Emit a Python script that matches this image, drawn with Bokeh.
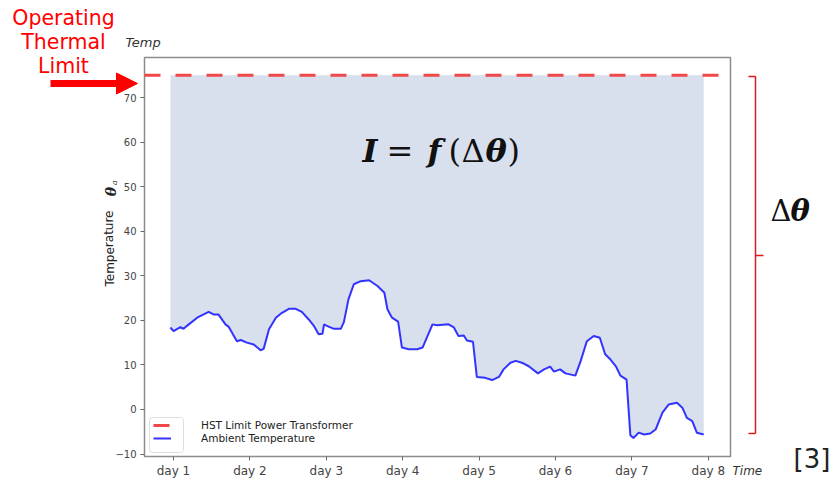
from bokeh.plotting import figure
from bokeh.models import (Range1d, FixedTicker, Label, Arrow, NormalHead,
                          Legend, LegendItem, ColumnDataSource, BoxAnnotation)
from bokeh.embed import file_html
from bokeh.resources import INLINE

# ---- data ----
days = [0.96, 1.00, 1.09, 1.13, 1.20, 1.31, 1.46, 1.53, 1.59, 1.68,
        1.72, 1.83, 1.88, 1.96, 2.05, 2.14, 2.18, 2.25, 2.34, 2.42,
        2.51, 2.60, 2.68, 2.77, 2.84, 2.90, 2.95, 2.97, 3.03, 3.10,
        3.19, 3.23, 3.29, 3.36, 3.45, 3.56, 3.67, 3.76, 3.80, 3.86,
        3.94, 3.99, 4.08, 4.19, 4.26, 4.39, 4.45, 4.60, 4.67, 4.73,
        4.80, 4.84, 4.92, 4.97, 5.08, 5.17, 5.26, 5.32, 5.41, 5.48,
        5.56, 5.65, 5.77, 5.85, 5.93, 5.98, 6.06, 6.13, 6.26, 6.33,
        6.41, 6.50, 6.58, 6.65, 6.72, 6.79, 6.85, 6.93, 6.98, 7.02,
        7.09, 7.16, 7.24, 7.31, 7.40, 7.48, 7.59, 7.66, 7.72, 7.79,
        7.85, 7.94]
ambient = [18.4, 17.6, 18.5, 18.1, 19.1, 20.6, 21.9, 21.3, 21.3, 19.1,
           18.6, 15.3, 15.6, 15.0, 14.6, 13.3, 13.6, 18.0, 20.6, 21.7,
           22.6, 22.6, 21.9, 20.2, 18.7, 16.9, 17.0, 19.1, 18.6, 18.1,
           18.1, 19.6, 24.7, 28.1, 28.8, 29.0, 27.7, 26.2, 22.5, 20.6,
           19.7, 13.9, 13.5, 13.5, 13.9, 19.1, 18.9, 19.1, 18.4, 16.5,
           16.6, 15.5, 15.2, 7.3, 7.1, 6.6, 7.3, 9.0, 10.5, 10.9,
           10.5, 9.7, 8.1, 9.0, 9.6, 8.5, 9.0, 8.1, 7.6, 10.9,
           15.3, 16.5, 16.1, 12.4, 11.2, 9.7, 7.6, 6.7, -5.8, -6.4,
           -5.2, -5.6, -5.4, -4.5, -0.7, 1.1, 1.5, 0.4, -1.9, -2.6,
           -5.2, -5.6]
hst_limit = 75
y_ticks = [-10, 0, 10, 20, 30, 40, 50, 60, 70]
y_tick_labels = ["\u221210", "0", "10", "20", "30", "40", "50", "60", "70"]
x_ticks = [1, 2, 3, 4, 5, 6, 7, 8]
x_tick_labels = ["day 1", "day 2", "day 3", "day 4", "day 5", "day 6", "day 7", "day 8"]
series_names = ["HST Limit Power Transformer", "Ambient Temperature"]

# ---- layout constants (axes box limits, in data units) ----
AX_X = (0.6204, 8.2906)     # left / right edge of the axes box
AX_Y = (-10.55, 78.98)      # bottom / top edge of the axes box
VIEW_X = (-1.2644, 9.6387)  # whole canvas
VIEW_Y = (-15.71, 91.77)
LEG_BOX = (0.686, 1.131, -9.65, -1.79)  # faint legend frame

RED = "#ff0000"
LIMIT_RED = "#f04848"
BLUE = "#3333ff"
FILL = "#d7e0ec"
SPINE = "#8c8c8c"

p = figure(width=833, height=479, output_backend="svg", toolbar_location=None,
           x_range=Range1d(*VIEW_X), y_range=Range1d(*VIEW_Y),
           min_border=0, min_border_left=0, min_border_right=0,
           min_border_top=0, min_border_bottom=0)
p.grid.visible = False
p.background_fill_color = "white"
p.border_fill_color = "white"
p.outline_line_color = None

# axes box
p.add_layout(BoxAnnotation(left=AX_X[0], right=AX_X[1], bottom=AX_Y[0], top=AX_Y[1],
                           fill_color=None, fill_alpha=0, line_color=SPINE,
                           line_alpha=1.0, line_width=1.5, level="underlay"))

src = ColumnDataSource(dict(x=days, y=ambient, top=[hst_limit] * len(days)))
p.varea(x="x", y1="y", y2="top", source=src, fill_color=FILL)
lim = p.segment(x0=[AX_X[0]], x1=[AX_X[1]], y0=[hst_limit], y1=[hst_limit],
                line_color=LIMIT_RED, line_width=3, line_dash="16 15")
amb = p.line("x", "y", source=src, line_color=BLUE, line_width=2)

# axes (fixed on the box edges)
for ax in (p.xaxis[0], p.yaxis[0]):
    ax.axis_line_color = None
    ax.major_tick_line_color = "#666666"
    ax.major_tick_in = 0
    ax.major_tick_out = 4
    ax.minor_tick_line_color = None
    ax.major_label_text_color = "#444444"
    ax.major_label_text_font = "DejaVu Sans"
p.xaxis.fixed_location = AX_Y[0]
p.yaxis.fixed_location = AX_X[0]
p.xaxis.ticker = FixedTicker(ticks=x_ticks)
p.xaxis.major_label_overrides = {t: l for t, l in zip(x_ticks, x_tick_labels)}
p.xaxis.major_label_text_font_size = "12px"
p.xaxis.major_label_standoff = 3
p.yaxis.ticker = FixedTicker(ticks=y_ticks)
p.yaxis.major_label_overrides = {t: l for t, l in zip(y_ticks, y_tick_labels)}
p.yaxis.major_label_text_font_size = "10px"
p.yaxis.major_label_standoff = 4

# legend frame (matplotlib style, faint)
p.add_layout(BoxAnnotation(left=LEG_BOX[0], right=LEG_BOX[1],
                           bottom=LEG_BOX[2], top=LEG_BOX[3],
                           fill_color="white", fill_alpha=1.0,
                           line_color="#dedede", line_alpha=1.0, line_width=1,
                           border_radius=3))
legend = Legend(items=[LegendItem(label=series_names[0], renderers=[lim]),
                       LegendItem(label=series_names[1], renderers=[amb])],
                location=(149, 31), padding=4, spacing=1, margin=0,
                glyph_width=18, glyph_height=12, label_standoff=30,
                label_text_font="DejaVu Sans", label_text_font_size="10.5px",
                label_text_color="#222222", label_height=12,
                border_line_alpha=0, background_fill_alpha=0)
p.add_layout(legend)


def lab(text, x, y, size, font="DejaVu Sans", style="normal", color="#222222",
        align="left", baseline="middle", angle=0.0):
    p.add_layout(Label(x=x, y=y, x_units="canvas", y_units="canvas", text=text,
                       text_font=font, text_font_size=size, text_font_style=style,
                       text_color=color, text_align=align, text_baseline=baseline,
                       angle=angle))


# red annotation on the left
lab("Operating", 63, 17, "20.5px", color=RED, align="center")
lab("Thermal", 63, 41, "20.5px", color=RED, align="center")
lab("Limit", 63, 65, "20.5px", color=RED, align="center")
p.add_layout(Arrow(x_start=50, y_start=83, x_end=137, y_end=83,
                   start_units="canvas", end_units="canvas",
                   line_color=RED, line_width=7,
                   end=NormalHead(size=21, fill_color=RED, line_color=RED)))

# axis texts
lab("Temp", 125, 42, "13px", style="italic", color="#333333")
lab("Time", 732, 470, "12px", style="italic", color="#333333")
lab("Temperature", 109, 248, "12px", color="#222222", align="center",
    angle=1.5708)
lab("\u03b8", 110, 191, "14px", font="DejaVu Serif", style="bold italic",
    color="#222222", align="center", angle=1.5708)
lab("a", 114, 182, "8px", font="DejaVu Serif", style="italic",
    color="#222222", align="center", angle=1.5708)

# formula
FS = "32px"
FY = 150
lab("I", 362, FY, FS, font="DejaVu Serif", style="bold italic", color="#111111")
lab("=", 386, FY, FS, font="DejaVu Serif", color="#111111")
lab("f", 427, FY, FS, font="DejaVu Serif", style="bold italic", color="#111111")
lab("(", 448, FY, FS, font="DejaVu Serif", color="#111111")
lab("\u0394", 461, FY, FS, font="DejaVu Serif", color="#111111")
lab("\u03b8", 485, FY, FS, font="DejaVu Serif", style="bold italic", color="#111111")
lab(")", 507, FY, FS, font="DejaVu Serif", color="#111111")

# right bracket
BR = "#dd1a1a"
for (xs, ys, xe, ye) in [(755, 76, 755, 433), (748, 76, 755, 76),
                         (748, 433, 755, 433), (755, 255, 763, 255)]:
    p.add_layout(Arrow(x_start=xs, y_start=ys, x_end=xe, y_end=ye,
                       start_units="canvas", end_units="canvas",
                       start=None, end=None, line_color=BR, line_width=1.5))
lab("\u0394", 770, 210, "29px", font="DejaVu Serif", color="#111111")
lab("\u03b8", 790, 210, "29px", font="DejaVu Serif", style="bold italic", color="#111111")

lab("[3]", 793, 458, "26px", color="#222222")

open("out.html", "w").write(file_html(p, INLINE))
